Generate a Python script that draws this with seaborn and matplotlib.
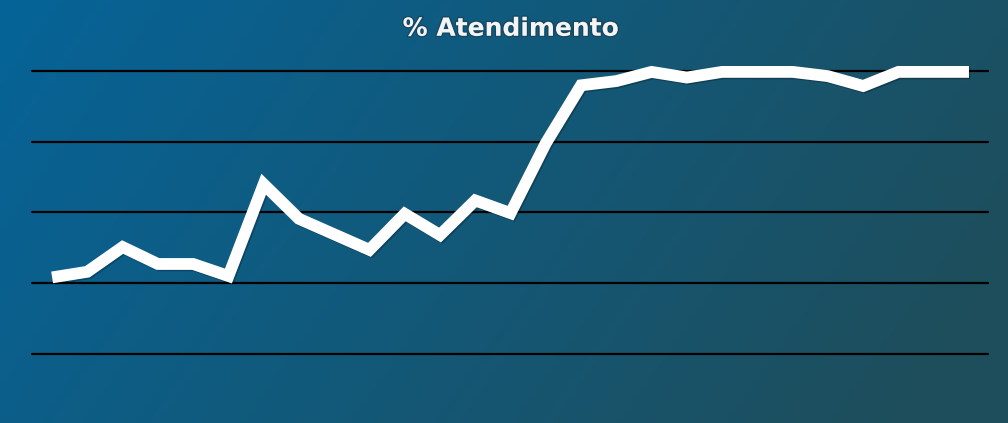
import matplotlib.pyplot as plt
import matplotlib.patheffects as pe
import numpy as np
import pandas as pd
import seaborn as sns

sns.set_theme(style="whitegrid")
plt.rcParams['font.family'] = ['DejaVu Sans']

# % Atendimento por período
periodos = list(range(27))
atendimento = [70.8, 71.6, 75.1, 72.7, 72.7, 71.0, 84.0, 79.1, 76.9, 74.7,
               79.8, 76.8, 81.7, 79.9, 89.8, 98.0, 98.6, 99.9, 99.1, 99.9,
               99.9, 99.9, 99.3, 97.9, 99.9, 99.9, 99.9]
grade = [60, 70, 80, 90, 100]

df = pd.DataFrame({'periodo': periodos, 'atendimento': atendimento})

fig = plt.figure(figsize=(10.08, 4.23), dpi=100)

# fundo em degradê azul -> azul petróleo
bg = fig.add_axes([0, 0, 1, 1])
xx, yy = np.meshgrid(np.linspace(0, 1, 300), np.linspace(0, 1, 150))
t = np.clip(0.85 * xx + 0.25 * yy, 0, 1)
c0 = np.array([6, 100, 152]) / 255
c1 = np.array([30, 78, 92]) / 255
img = c0[None, None, :] * (1 - t[..., None]) + c1[None, None, :] * t[..., None]
bg.imshow(img, aspect='auto', extent=[0, 1, 0, 1], origin='upper')
bg.set_axis_off()

ax = fig.add_axes([32 / 1008, 0.0804, 956 / 1008, 0.778])
ax.set_facecolor('none')
sns.lineplot(data=df, x='periodo', y='atendimento', ax=ax, color='white',
             linewidth=8.5, solid_joinstyle='miter', solid_capstyle='butt', zorder=3,
             path_effects=[pe.SimpleLineShadow(offset=(1, -1), shadow_color='black', alpha=0.25),
                           pe.Normal()])

ax.set_xlim(-0.57, 26.54)
ax.set_ylim(55, 101.6)
ax.set_yticks(grade)
ax.set_xticks([])
ax.grid(axis='y', color='black', linewidth=1.6)
ax.grid(axis='x', visible=False)
ax.tick_params(labelleft=False, left=False, bottom=False)
ax.set_xlabel('')
ax.set_ylabel('')
for s in ax.spines.values():
    s.set_visible(False)
for gl in ax.get_ygridlines():
    gl.set_clip_on(False)

fig.text(0.507, 0.932, '% Atendimento', ha='center', va='center', color='#f4f4f4',
         fontsize=18, fontweight='bold',
         path_effects=[pe.withStroke(linewidth=2, foreground='#1a3040', alpha=0.45)])

fig.savefig('out.png', dpi=100)
